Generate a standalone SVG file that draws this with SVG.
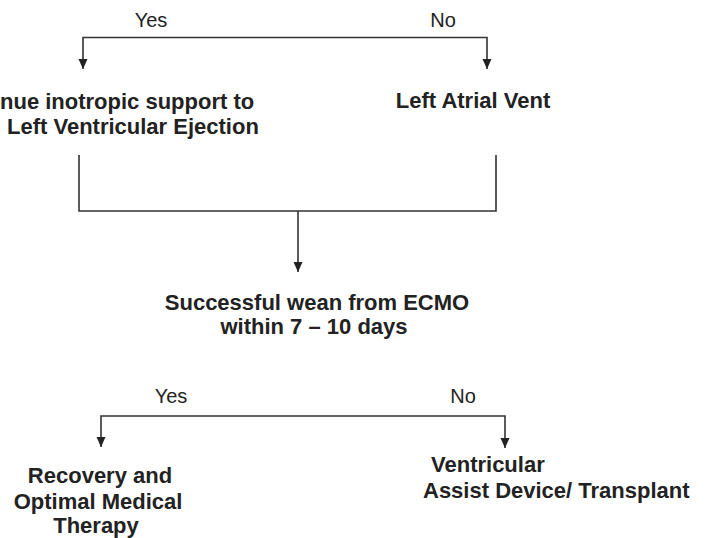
<svg xmlns="http://www.w3.org/2000/svg" width="710" height="538" viewBox="0 0 710 538">
<style>
.lbl{font-family:"Liberation Sans",Arial,sans-serif;font-size:20px;fill:#222}
.node{font-family:"Liberation Sans",Arial,sans-serif;font-size:22px;font-weight:bold;fill:#222}
.ln{stroke:#333;stroke-width:1.6;fill:none}
</style>
<defs>
<marker id="ah" viewBox="0 0 10 10" refX="10" refY="5" markerWidth="10" markerHeight="10" markerUnits="userSpaceOnUse" orient="auto">
<path d="M0,0.5 L10,5 L0,9.5 z" fill="#222"/>
</marker>
</defs>
<rect width="710" height="538" fill="#fff"/>
<g id="connectors">
<polyline class="ln" points="285,37.5 83,37.5 83,69" marker-end="url(#ah)"/>
<polyline class="ln" points="285,37.5 487,37.5 487,69" marker-end="url(#ah)"/>
<polyline class="ln" points="79,155 79,211 496,211 496,155"/>
<line class="ln" x1="298" y1="211" x2="298" y2="272" marker-end="url(#ah)"/>
<polyline class="ln" points="303,416 101,416 101,447" marker-end="url(#ah)"/>
<polyline class="ln" points="303,416 505,416 505,448" marker-end="url(#ah)"/>
</g>
<g id="labels">
<text class="lbl" x="151" y="27" text-anchor="middle">Yes</text>
<text class="lbl" x="443" y="27" text-anchor="middle">No</text>
<text class="lbl" x="171" y="403" text-anchor="middle">Yes</text>
<text class="lbl" x="463" y="403" text-anchor="middle">No</text>
</g>
<g id="node-inotropic">
<text class="node" x="0" y="109">nue inotropic support to</text>
<text class="node" x="7" y="134">Left Ventricular Ejection</text>
</g>
<g id="node-la-vent">
<text class="node" x="473" y="108" text-anchor="middle">Left Atrial Vent</text>
</g>
<g id="node-wean">
<text class="node" x="317" y="310" text-anchor="middle">Successful wean from ECMO</text>
<text class="node" x="314" y="334" text-anchor="middle">within 7 – 10 days</text>
</g>
<g id="node-recovery">
<text class="node" x="100" y="483" text-anchor="middle">Recovery and</text>
<text class="node" x="98" y="509" text-anchor="middle">Optimal Medical</text>
<text class="node" x="96" y="533" text-anchor="middle">Therapy</text>
</g>
<g id="node-vad">
<text class="node" x="431" y="472">Ventricular</text>
<text class="node" x="423" y="498">Assist Device/ Transplant</text>
</g>
</svg>
